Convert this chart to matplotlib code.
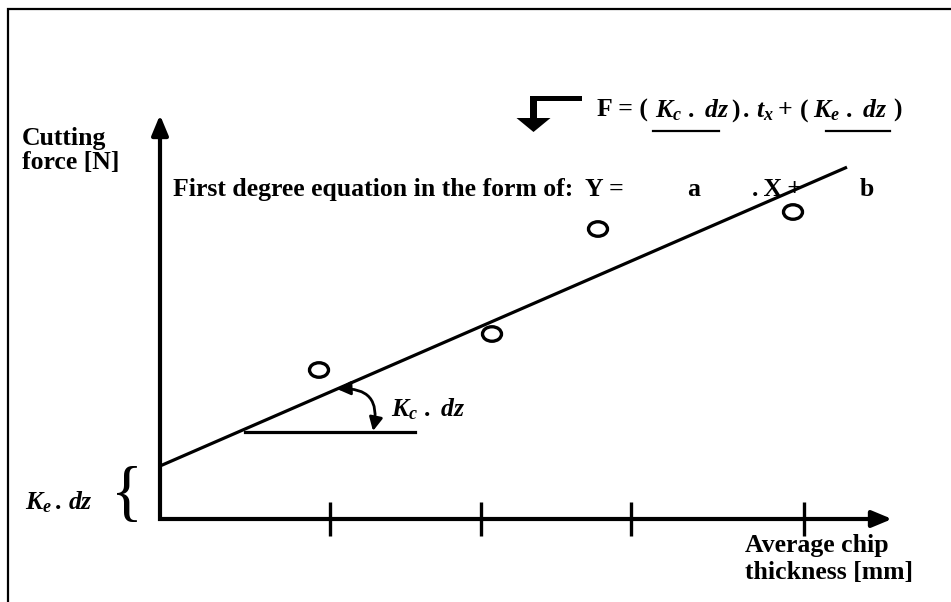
import numpy as np
import matplotlib
matplotlib.use("Agg")
import matplotlib.pyplot as plt
from matplotlib.patches import Ellipse, FancyArrow, Rectangle

plt.rcParams['font.family'] = ['Liberation Serif', 'DejaVu Serif']
plt.rcParams['font.weight'] = 'bold'
plt.rcParams['mathtext.fontset'] = 'custom'
plt.rcParams['mathtext.rm'] = 'Liberation Serif:bold'
plt.rcParams['mathtext.it'] = 'Liberation Serif:italic:bold'
plt.rcParams['mathtext.bf'] = 'Liberation Serif:bold'

# measured points (chip thickness vs cutting force, arbitrary units)
chip_thickness = [1.59, 3.32, 4.38, 6.33]
cutting_force = [1.49, 1.85, 2.90, 3.07]
tick_positions = [1.70, 3.21, 4.71, 6.44]

# fitted line  F = a * t + b
slope_a = 0.435
intercept_b = 0.53
line_end = 6.87

FS = 18.5

fig = plt.figure(figsize=(9.51, 6.02), dpi=100)
ax = fig.add_axes([0, 0, 1, 1])
ax.set_xlim(-1.60, 7.91)
ax.set_ylim(-0.83, 5.19)
ax.axis('off')

# frame (left and top edges)
ax.plot([-1.52, -1.52, 7.95], [-0.9, 5.10, 5.10], color='black', lw=1.6,
        clip_on=False, solid_joinstyle='miter')

# axes drawn as one L-shaped stroke, then arrow heads on the ends
ax.plot([0, 0, 7.2], [3.9, 0, 0], color='black', lw=3,
        solid_joinstyle='miter', solid_capstyle='butt')
head = dict(arrowstyle='-|>,head_length=1.2,head_width=0.5', color='black',
            lw=3, shrinkA=0, shrinkB=0)
ax.annotate('', xy=(0, 4.04), xytext=(0, 3.8), arrowprops=head)
ax.annotate('', xy=(7.32, 0), xytext=(7.1, 0), arrowprops=head)

for t in tick_positions:
    ax.plot([t, t], [-0.17, 0.17], color='black', lw=2.4, solid_capstyle='butt')

# regression line
xs = np.array([0, line_end])
ax.plot(xs, slope_a * xs + intercept_b, color='black', lw=2.3,
        solid_capstyle='butt')

# data points as open ellipses
for x, y in zip(chip_thickness, cutting_force):
    ax.add_patch(Ellipse((x, y), 0.19, 0.145, fill=False, ec='black', lw=2.4))

# slope indicator
ax.plot([0.85, 2.55], [0.87, 0.87], color='black', lw=2.3)
x0 = 1.77
ax.annotate('', xy=(x0, slope_a * x0 + intercept_b), xytext=(2.13, 0.88),
            arrowprops=dict(arrowstyle='<|-|>,head_length=0.8,head_width=0.4',
                            color='black', lw=2, shrinkA=0, shrinkB=0,
                            connectionstyle='arc3,rad=0.65'))
ax.text(2.31, 1.10, r'$K_c\ .\ dz$', fontsize=FS, va='center', ha='left')

# intercept brace and label
ax.text(-0.33, 0.22, '{', fontsize=48, fontweight='normal', va='center',
        ha='center')
ax.text(-1.35, 0.17, r'$K_e\,.\,dz$', fontsize=FS, va='center', ha='left')

# axis titles
ax.text(-1.38, 3.92, 'Cutting\nforce [N]', fontsize=FS, va='top', ha='left',
        linespacing=1.05)
ax.text(5.85, -0.15, 'Average chip\nthickness [mm]', fontsize=FS, va='top',
        ha='left', linespacing=1.25)

# equation, placed in pieces so the underlines sit under the coefficients
eq_y = 4.02
ax.text(4.37, eq_y, 'F = (', fontsize=FS, va='baseline', ha='left')
ax.text(4.95, eq_y, r'$K_c\ .\ dz$', fontsize=FS, va='baseline', ha='left')
ax.text(5.71, eq_y, r'$)\,.\,t_x + \,($', fontsize=FS, va='baseline', ha='left')
ax.text(6.53, eq_y, r'$K_e\ .\ dz$', fontsize=FS, va='baseline', ha='left')
ax.text(7.33, eq_y, ')', fontsize=FS, va='baseline', ha='left')
ax.plot([4.93, 5.59], [3.88, 3.88], color='black', lw=1.6)
ax.plot([6.66, 7.30], [3.88, 3.88], color='black', lw=1.6)

ax.text(0.13, 3.23, 'First degree equation in the form of:', fontsize=FS,
        va='baseline', ha='left')
ax.text(4.25, 3.23, 'Y =', fontsize=FS, va='baseline', ha='left')
ax.text(5.27, 3.23, 'a', fontsize=FS, va='baseline', ha='left')
ax.text(5.92, 3.23, '.\u2009X\u2009+', fontsize=FS, va='baseline', ha='left')
ax.text(7.00, 3.23, 'b', fontsize=FS, va='baseline', ha='left')

# bent arrow pointing from equation to its generic form
ax.add_patch(Rectangle((3.70, 4.18), 0.52, 0.05, color='black', lw=0))
ax.add_patch(FancyArrow(3.735, 4.23, 0, -0.36, width=0.07, head_width=0.34,
                        head_length=0.14, length_includes_head=True,
                        color='black', lw=0))

fig.savefig('out.png', dpi=100)
